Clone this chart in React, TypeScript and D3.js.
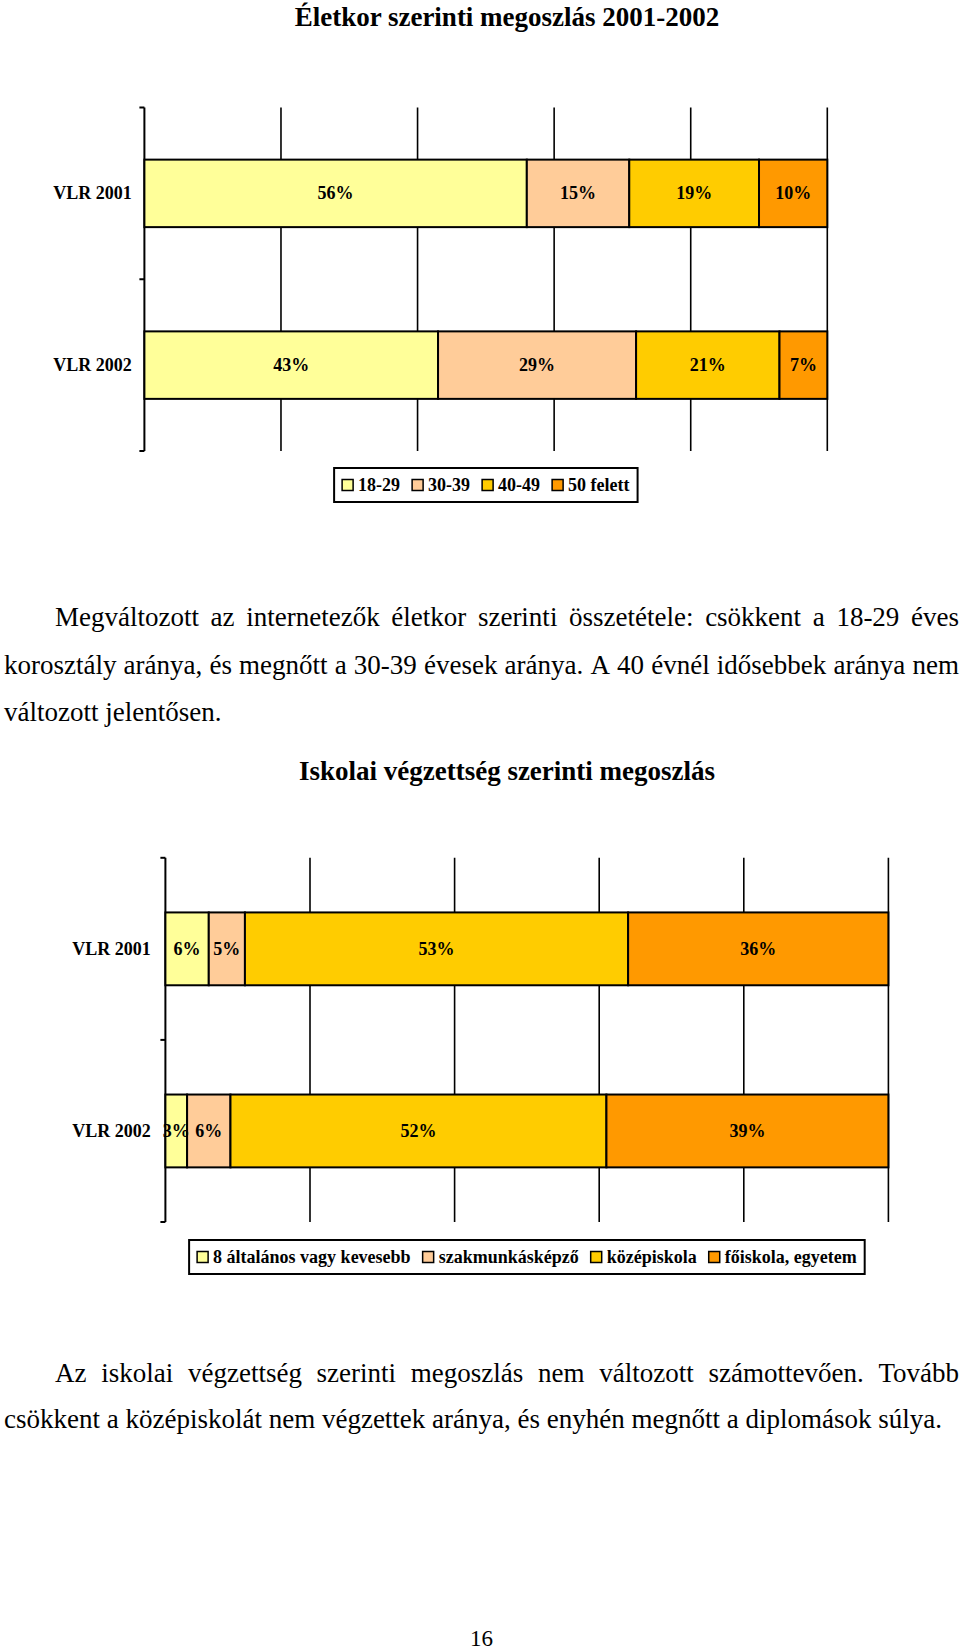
import React, { useEffect, useRef } from "react";
import * as d3 from "d3";

// ---------- data ----------
const ageCategories = ["VLR 2001", "VLR 2002"];
const ageSeries = ["18-29", "30-39", "40-49", "50 felett"];
const age2001 = [56, 15, 19, 10];
const age2002 = [43, 29, 21, 7];

const eduCategories = ["VLR 2001", "VLR 2002"];
const eduSeries = ["8 általános vagy kevesebb", "szakmunkásképző", "középiskola", "főiskola, egyetem"];
const edu2001 = [6, 5, 53, 36];
const edu2002 = [3, 6, 52, 39];

const seriesColors = ["#FFFF99", "#FFCC99", "#FFCC00", "#FF9900"];
const xTicks = [0, 20, 40, 60, 80, 100];

const title1 = "Életkor szerinti megoszlás 2001-2002";
const title2 = "Iskolai végzettség szerinti megoszlás";
const para1 = [
  "Megváltozott az internetezők életkor szerinti összetétele: csökkent a 18-29 éves",
  "korosztály aránya, és megnőtt a 30-39 évesek aránya. A 40 évnél idősebbek aránya nem",
  "változott jelentősen.",
];
const para2 = [
  "Az iskolai végzettség szerinti megoszlás nem változott számottevően. Tovább",
  "csökkent a középiskolát nem végzettek aránya, és enyhén megnőtt a diplomások súlya.",
];
const pageNumber = "16";

const SERIF = "'Liberation Serif', 'Times New Roman', Times, serif";

type ChartCfg = {
  categories: string[];
  series: string[];
  rows: number[][];
  x0: number;
  x1: number;
  yTop: number;
  yBottom: number;
  paddingInner: number;
  labelGap: number;
  legendCY: number;
};

function drawChart(svg: any, cfg: ChartCfg) {
  const g = svg.append("g");
  const x = d3.scaleLinear().domain([0, 100]).range([cfg.x0, cfg.x1]);
  const y = d3
    .scaleBand<string>()
    .domain(cfg.categories)
    .range([cfg.yTop, cfg.yBottom])
    .paddingInner(cfg.paddingInner)
    .paddingOuter(cfg.paddingInner / 2);

  const table = cfg.categories.map((c, i) => {
    const o: any = { cat: c };
    cfg.series.forEach((s, j) => (o[s] = cfg.rows[i][j]));
    return o;
  });
  const stacked = d3.stack<any>().keys(cfg.series)(table);

  // gridlines
  g.selectAll("line.grid")
    .data(xTicks.slice(1))
    .join("line")
    .attr("x1", (d: number) => x(d))
    .attr("x2", (d: number) => x(d))
    .attr("y1", cfg.yTop)
    .attr("y2", cfg.yBottom)
    .attr("stroke", "#000")
    .attr("stroke-width", 1.6);

  // axis line + ticks (category boundaries)
  g.append("line")
    .attr("x1", x(0))
    .attr("x2", x(0))
    .attr("y1", cfg.yTop)
    .attr("y2", cfg.yBottom)
    .attr("stroke", "#000")
    .attr("stroke-width", 2);
  const step = y.step();
  const bounds = d3.range(cfg.categories.length + 1).map((i) => cfg.yTop + i * step);
  g.selectAll("line.tick")
    .data(bounds)
    .join("line")
    .attr("x1", x(0) - 5)
    .attr("x2", x(0))
    .attr("y1", (d: number) => d)
    .attr("y2", (d: number) => d)
    .attr("stroke", "#000")
    .attr("stroke-width", 2);

  // bars
  stacked.forEach((layer: any, j: number) => {
    g.selectAll(null)
      .data(layer)
      .join("rect")
      .attr("x", (d: any) => x(d[0]))
      .attr("width", (d: any) => x(d[1]) - x(d[0]))
      .attr("y", (d: any) => y(d.data.cat))
      .attr("height", y.bandwidth())
      .attr("fill", seriesColors[j])
      .attr("stroke", "#000")
      .attr("stroke-width", 2);
  });
  stacked.forEach((layer: any, j: number) => {
    g.selectAll(null)
      .data(layer)
      .join("text")
      .attr("x", (d: any) => (x(d[0]) + x(d[1])) / 2)
      .attr("y", (d: any) => (y(d.data.cat) as number) + y.bandwidth() / 2 + 6)
      .attr("text-anchor", "middle")
      .attr("font-family", SERIF)
      .attr("font-weight", "bold")
      .attr("font-size", 18)
      .text((d: any) => `${d[1] - d[0]}%`);
  });

  // category labels
  g.selectAll(null)
    .data(cfg.categories)
    .join("text")
    .attr("x", x(0) - cfg.labelGap)
    .attr("y", (d: string) => (y(d) as number) + y.bandwidth() / 2 + 6)
    .attr("text-anchor", "end")
    .attr("font-family", SERIF)
    .attr("font-weight", "bold")
    .attr("font-size", 18)
    .text((d: string) => d);

  // legend
  const lg = g.append("g");
  const sw = 11,
    swGap = 5,
    itemGap = 12,
    pad = 8,
    lh = 34;
  const items = cfg.series.map((s, j) => {
    const t = lg
      .append("text")
      .attr("font-family", SERIF)
      .attr("font-weight", "bold")
      .attr("font-size", 18)
      .text(s);
    return { t, w: (t.node() as SVGTextElement).getComputedTextLength(), j };
  });
  const total = d3.sum(items, (d) => sw + swGap + d.w) + itemGap * (items.length - 1) + pad * 2;
  const cx = (cfg.x0 + cfg.x1) / 2;
  const bx = cx - total / 2;
  lg.insert("rect", ":first-child")
    .attr("x", bx)
    .attr("y", cfg.legendCY - lh / 2)
    .attr("width", total)
    .attr("height", lh)
    .attr("fill", "#fff")
    .attr("stroke", "#000")
    .attr("stroke-width", 2);
  let cur = bx + pad;
  items.forEach((it) => {
    lg.append("rect")
      .attr("x", cur)
      .attr("y", cfg.legendCY - sw / 2)
      .attr("width", sw)
      .attr("height", sw)
      .attr("fill", seriesColors[it.j])
      .attr("stroke", "#000")
      .attr("stroke-width", 1.5);
    it.t.attr("x", cur + sw + swGap).attr("y", cfg.legendCY + 6);
    cur += sw + swGap + it.w + itemGap;
  });
}

function drawLine(svg: any, text: string, x0: number, x1: number, baseline: number, justify: boolean) {
  const size = 27;
  if (!justify) {
    svg
      .append("text")
      .attr("x", x0)
      .attr("y", baseline)
      .attr("font-family", SERIF)
      .attr("font-size", size)
      .text(text);
    return;
  }
  const words = text.split(" ");
  const nodes = words.map((w) =>
    svg.append("text").attr("y", baseline).attr("font-family", SERIF).attr("font-size", size).text(w)
  );
  const widths = nodes.map((n: any) => (n.node() as SVGTextElement).getComputedTextLength());
  const gap = (x1 - x0 - d3.sum(widths)) / (words.length - 1);
  let cur = x0;
  nodes.forEach((n: any, i: number) => {
    n.attr("x", cur);
    cur += widths[i] + gap;
  });
}

export default function App() {
  const ref = useRef<SVGSVGElement>(null);
  useEffect(() => {
    const svg = d3.select(ref.current);
    svg.selectAll("*").remove();

    svg
      .append("text")
      .attr("x", 507)
      .attr("y", 26)
      .attr("text-anchor", "middle")
      .attr("font-family", SERIF)
      .attr("font-weight", "bold")
      .attr("font-size", 27)
      .text(title1);

    drawChart(svg, {
      categories: ageCategories,
      series: ageSeries,
      rows: [age2001, age2002],
      x0: 144.4,
      x1: 827.3,
      yTop: 107.5,
      yBottom: 451,
      paddingInner: 0.607,
      labelGap: 12.7,
      legendCY: 485,
    });

    drawLine(svg, para1[0], 55, 959, 626, true);
    drawLine(svg, para1[1], 4, 959, 674, true);
    drawLine(svg, para1[2], 4, 959, 721, false);

    svg
      .append("text")
      .attr("x", 507)
      .attr("y", 780)
      .attr("text-anchor", "middle")
      .attr("font-family", SERIF)
      .attr("font-weight", "bold")
      .attr("font-size", 27)
      .text(title2);

    drawChart(svg, {
      categories: eduCategories,
      series: eduSeries,
      rows: [edu2001, edu2002],
      x0: 165.4,
      x1: 888.4,
      yTop: 857.8,
      yBottom: 1222,
      paddingInner: 0.6,
      labelGap: 14.7,
      legendCY: 1257,
    });

    drawLine(svg, para2[0], 55, 959, 1382, true);
    drawLine(svg, para2[1], 4, 959, 1428, false);

    svg
      .append("text")
      .attr("x", 481.6)
      .attr("y", 1646)
      .attr("text-anchor", "middle")
      .attr("font-family", SERIF)
      .attr("font-size", 23)
      .text(pageNumber);
  }, []);
  return (
    <svg
      ref={ref}
      width={960}
      height={1652}
      style={{ position: "absolute", left: 0, top: 0, background: "#fff" }}
    />
  );
}
